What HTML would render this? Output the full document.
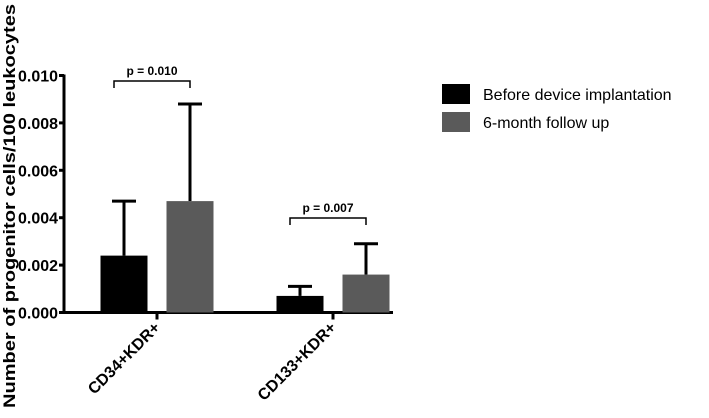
<!DOCTYPE html>
<html><head><meta charset="utf-8"><style>
body{margin:0;background:#fff;}
svg text{font-family:"Liberation Sans",Arial,sans-serif;}
</style></head><body>
<svg id="chart" width="709" height="413" viewBox="0 0 709 413">
<g id="plot"></g>
<g>
<rect x="442" y="84" width="28" height="20" fill="#000"/>
<text x="483" y="100" font-size="16">Before device implantation</text>
<rect x="442" y="112" width="28" height="20" fill="#5a5a5a"/>
<text x="483" y="128" font-size="16">6-month follow up</text>
</g>
<text transform="translate(15,206) rotate(-90)" text-anchor="middle" font-size="17" font-weight="bold" textLength="404" lengthAdjust="spacingAndGlyphs">Number of progenitor cells/100 leukocytes</text>
</svg>
<script>
const categories=["CD34+KDR+","CD133+KDR+"];
const beforeValues=[0.0024,0.0007];
const beforeErrors=[0.0047,0.0011];
const followValues=[0.0047,0.0016];
const followErrors=[0.0088,0.0029];
const pLabels=["p = 0.010","p = 0.007"];
const yTicks=[0,0.002,0.004,0.006,0.008,0.010];
const yTickLabels=["0.000","0.002","0.004","0.006","0.008","0.010"];
const NS="http://www.w3.org/2000/svg";
const g=document.getElementById('plot');
const y0=312.5,yTop=75.5,x0=64,x1=393;
const y=v=>y0-(v/0.010)*(y0-yTop);
const catX=i=>157+i*176;
function mk(t,a,txt){const e=document.createElementNS(NS,t);for(const k in a)e.setAttribute(k,a[k]);if(txt!==undefined)e.textContent=txt;g.appendChild(e);return e;}
let e=mk('line',{x1:x0,y1:y0,x2:x1,y2:y0,stroke:'#000','stroke-width':3});


e=mk('line',{x1:x0,y1:yTop-1,x2:x0,y2:y0+1.5,stroke:'#000','stroke-width':3});


yTicks.forEach((t,i)=>{
 e=mk('line',{x1:x0-5,y1:y(t),x2:x0,y2:y(t),stroke:'#000','stroke-width':3});
 
 
 e=mk('text',{x:x0-6,y:y(t)+6,'text-anchor':'end','font-size':16,'font-weight':'bold',textLength:40,lengthAdjust:'spacingAndGlyphs'},yTickLabels[i]);
 
 
});
function bar(xc,v,err,fill,name){
 e=mk('line',{x1:xc,y1:y(v),x2:xc,y2:y(err),stroke:'#000','stroke-width':3});
 
 
 e=mk('line',{x1:xc-12,y1:y(err),x2:xc+12,y2:y(err),stroke:'#000','stroke-width':3});
 
 
 e=mk('rect',{x:xc-23.5,y:y(v),width:47,height:y0-y(v),fill:fill});
 
 
}
categories.forEach((c,i)=>{
 const cx=catX(i);
 bar(cx-33,beforeValues[i],beforeErrors[i],'#000','bar-before-'+i);
 bar(cx+33,followValues[i],followErrors[i],'#5a5a5a','bar-followup-'+i);
 e=mk('line',{x1:cx,y1:y0,x2:cx,y2:y0+7,stroke:'#000','stroke-width':3});
 
 
 e=mk('text',{transform:`translate(${cx+4},${y0+16}) rotate(-45)`,'text-anchor':'end','font-size':16,'font-weight':'bold'},c);
 
 
 const by=i==0?81:218;
 e=mk('path',{d:`M${cx-43},${by+7}V${by}H${cx+33}V${by+7}`,fill:'none',stroke:'#000','stroke-width':1.5});
 
 
 e=mk('text',{x:cx-5,y:by-6,'text-anchor':'middle','font-size':12,'font-weight':'bold'},pLabels[i]);
 
 
});
</script>
</body></html>
